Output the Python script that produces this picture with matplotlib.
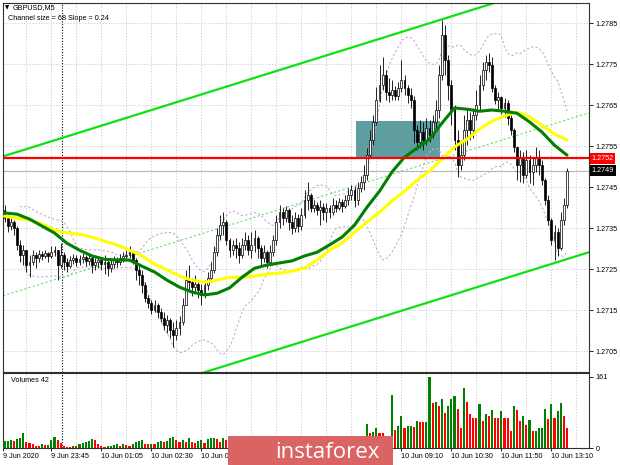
import numpy as np
import pandas as pd
import matplotlib
matplotlib.use("Agg")
import matplotlib.pyplot as plt
from matplotlib.patches import Rectangle
from matplotlib.transforms import blended_transform_factory

plt.rcParams['font.family'] = ['Liberation Sans', 'DejaVu Sans']

# GBPUSD M5 bars (open of bar i = close of bar i-1)
first_open = 1.27394
closes = [
    1.27374, 1.27355, 1.27365, 1.27350, 1.27309, 1.27284, 1.27296, 1.27260, 1.27267, 1.27284,
    1.27277, 1.27287, 1.27282, 1.27289, 1.27282, 1.27291, 1.27296, 1.27260, 1.27284, 1.27267,
    1.27257, 1.27272, 1.27277, 1.27267, 1.27274, 1.27279, 1.27270, 1.27277, 1.27260, 1.27267,
    1.27272, 1.27262, 1.27267, 1.27252, 1.27262, 1.27272, 1.27267, 1.27277, 1.27282, 1.27284,
    1.27291, 1.27272, 1.27248, 1.27235, 1.27211, 1.27179, 1.27167, 1.27150, 1.27162, 1.27145,
    1.27130, 1.27113, 1.27126, 1.27101, 1.27089, 1.27106, 1.27121, 1.27162, 1.27223, 1.27218,
    1.27206, 1.27213, 1.27199, 1.27187, 1.27211, 1.27228, 1.27248, 1.27291, 1.27333, 1.27357,
    1.27365, 1.27321, 1.27296, 1.27309, 1.27301, 1.27284, 1.27309, 1.27321, 1.27296, 1.27309,
    1.27326, 1.27301, 1.27277, 1.27291, 1.27267, 1.27291, 1.27321, 1.27365, 1.27389, 1.27374,
    1.27394, 1.27365, 1.27350, 1.27374, 1.27355, 1.27382, 1.27418, 1.27430, 1.27399, 1.27406,
    1.27394, 1.27401, 1.27389, 1.27399, 1.27389, 1.27406, 1.27399, 1.27413, 1.27404, 1.27418,
    1.27430, 1.27443, 1.27418, 1.27448, 1.27462, 1.27479, 1.27528, 1.27565, 1.27609, 1.27662,
    1.27699, 1.27723, 1.27682, 1.27674, 1.27687, 1.27672, 1.27691, 1.27711, 1.27691, 1.27674,
    1.27662, 1.27589, 1.27560, 1.27584, 1.27565, 1.27594, 1.27577, 1.27609, 1.27638, 1.27723,
    1.27821, 1.27760, 1.27699, 1.27638, 1.27565, 1.27504, 1.27528, 1.27589, 1.27613, 1.27589,
    1.27626, 1.27650, 1.27699, 1.27735, 1.27755, 1.27748, 1.27691, 1.27662, 1.27670, 1.27643,
    1.27655, 1.27618, 1.27589, 1.27548, 1.27504, 1.27521, 1.27479, 1.27516, 1.27487, 1.27504,
    1.27521, 1.27504, 1.27467, 1.27418, 1.27370, 1.27321, 1.27340, 1.27301, 1.27370, 1.27406,
    1.27490]
highs = [
    1.27406, 1.27382, 1.27374, 1.27370, 1.27355, 1.27321, 1.27309, 1.27296, 1.27284, 1.27296,
    1.27291, 1.27296, 1.27294, 1.27296, 1.27291, 1.27306, 1.27306, 1.27296, 1.27313, 1.27291,
    1.27277, 1.27282, 1.27287, 1.27284, 1.27284, 1.27289, 1.27284, 1.27289, 1.27282, 1.27277,
    1.27282, 1.27279, 1.27284, 1.27277, 1.27272, 1.27282, 1.27279, 1.27287, 1.27291, 1.27296,
    1.27306, 1.27296, 1.27277, 1.27260, 1.27248, 1.27218, 1.27187, 1.27174, 1.27174, 1.27167,
    1.27155, 1.27145, 1.27138, 1.27130, 1.27121, 1.27126, 1.27135, 1.27179, 1.27248, 1.27260,
    1.27228, 1.27235, 1.27223, 1.27213, 1.27223, 1.27243, 1.27267, 1.27306, 1.27350, 1.27382,
    1.27389, 1.27370, 1.27326, 1.27321, 1.27326, 1.27316, 1.27326, 1.27340, 1.27333, 1.27340,
    1.27345, 1.27330, 1.27309, 1.27309, 1.27296, 1.27309, 1.27333, 1.27382, 1.27406, 1.27399,
    1.27404, 1.27399, 1.27382, 1.27389, 1.27384, 1.27399, 1.27443, 1.27462, 1.27435, 1.27418,
    1.27413, 1.27418, 1.27411, 1.27411, 1.27406, 1.27423, 1.27418, 1.27423, 1.27421, 1.27430,
    1.27448, 1.27455, 1.27452, 1.27462, 1.27477, 1.27504, 1.27545, 1.27589, 1.27626, 1.27694,
    1.27748, 1.27767, 1.27735, 1.27716, 1.27711, 1.27696, 1.27706, 1.27760, 1.27723, 1.27699,
    1.27691, 1.27672, 1.27601, 1.27613, 1.27609, 1.27618, 1.27613, 1.27626, 1.27662, 1.27748,
    1.27857, 1.27845, 1.27772, 1.27711, 1.27650, 1.27589, 1.27565, 1.27626, 1.27638, 1.27633,
    1.27643, 1.27687, 1.27723, 1.27755, 1.27772, 1.27777, 1.27767, 1.27699, 1.27682, 1.27672,
    1.27667, 1.27662, 1.27626, 1.27594, 1.27545, 1.27540, 1.27535, 1.27540, 1.27528, 1.27523,
    1.27548, 1.27540, 1.27516, 1.27472, 1.27430, 1.27374, 1.27357, 1.27350, 1.27389, 1.27423,
    1.27496]
lows = [
    1.27365, 1.27340, 1.27345, 1.27333, 1.27296, 1.27267, 1.27260, 1.27243, 1.27230, 1.27260,
    1.27252, 1.27267, 1.27272, 1.27277, 1.27267, 1.27277, 1.27282, 1.27223, 1.27252, 1.27248,
    1.27243, 1.27252, 1.27262, 1.27257, 1.27260, 1.27265, 1.27257, 1.27260, 1.27240, 1.27248,
    1.27252, 1.27248, 1.27238, 1.27233, 1.27243, 1.27252, 1.27255, 1.27260, 1.27267, 1.27272,
    1.27277, 1.27262, 1.27223, 1.27211, 1.27191, 1.27170, 1.27155, 1.27140, 1.27145, 1.27130,
    1.27121, 1.27101, 1.27094, 1.27082, 1.27060, 1.27077, 1.27089, 1.27113, 1.27162, 1.27194,
    1.27184, 1.27194, 1.27179, 1.27162, 1.27179, 1.27199, 1.27218, 1.27240, 1.27282, 1.27321,
    1.27333, 1.27309, 1.27279, 1.27284, 1.27277, 1.27265, 1.27277, 1.27296, 1.27284, 1.27277,
    1.27291, 1.27277, 1.27260, 1.27267, 1.27252, 1.27257, 1.27282, 1.27309, 1.27350, 1.27357,
    1.27365, 1.27345, 1.27335, 1.27340, 1.27340, 1.27345, 1.27374, 1.27394, 1.27389, 1.27389,
    1.27382, 1.27357, 1.27370, 1.27365, 1.27374, 1.27382, 1.27389, 1.27394, 1.27389, 1.27399,
    1.27406, 1.27418, 1.27401, 1.27406, 1.27438, 1.27443, 1.27467, 1.27521, 1.27552, 1.27601,
    1.27657, 1.27687, 1.27662, 1.27657, 1.27662, 1.27662, 1.27662, 1.27682, 1.27674, 1.27655,
    1.27643, 1.27557, 1.27540, 1.27545, 1.27540, 1.27552, 1.27560, 1.27570, 1.27589, 1.27618,
    1.27711, 1.27723, 1.27662, 1.27601, 1.27540, 1.27474, 1.27491, 1.27516, 1.27552, 1.27565,
    1.27570, 1.27613, 1.27638, 1.27687, 1.27711, 1.27730, 1.27682, 1.27652, 1.27638, 1.27628,
    1.27621, 1.27601, 1.27577, 1.27535, 1.27467, 1.27462, 1.27460, 1.27472, 1.27460, 1.27455,
    1.27487, 1.27479, 1.27455, 1.27406, 1.27357, 1.27309, 1.27272, 1.27282, 1.27296, 1.27357,
    1.27399]
volumes = [
    15, 17, 19, 16, 20, 22, 34, 13, 11, 8,
    5, 4, 8, 6, 7, 19, 25, 19, 11, 5,
    2, 2, 5, 4, 9, 11, 14, 17, 20, 19,
    8, 4, 2, 4, 5, 7, 9, 5, 10, 7,
    5, 8, 13, 16, 19, 10, 9, 10, 8, 14,
    15, 13, 15, 23, 25, 19, 14, 19, 13, 23,
    14, 11, 15, 19, 11, 21, 22, 23, 21, 13,
    23, 18, 14, 16, 12, 15, 11, 14, 10, 13,
    16, 12, 15, 18, 20, 16, 22, 24, 20, 17,
    19, 15, 13, 17, 14, 18, 22, 25, 19, 16,
    13, 17, 14, 12, 16, 13, 17, 14, 12, 16,
    19, 22, 18, 23, 25, 21, 55, 34, 36, 45,
    33, 33, 28, 25, 121, 40, 51, 73, 45, 49,
    50, 47, 61, 59, 58, 59, 161, 102, 104, 95,
    112, 80, 95, 110, 117, 89, 45, 136, 105, 77,
    68, 67, 100, 62, 78, 72, 87, 68, 67, 83,
    68, 67, 39, 96, 86, 62, 73, 53, 63, 38,
    39, 45, 46, 89, 66, 100, 68, 83, 102, 72,
    45]

# moving averages every 4 bars (bars 0, 4, ..., 180)
ma_green = [1.27387, 1.27384, 1.27372, 1.27355, 1.27338, 1.27313, 1.27296, 1.27282,
            1.27274, 1.27272, 1.27272, 1.27257, 1.27243, 1.27223, 1.27206, 1.27194,
            1.27187, 1.27191, 1.27204, 1.27230, 1.27252, 1.27260, 1.27265, 1.27270,
            1.27282, 1.27291, 1.27309, 1.27328, 1.27357, 1.27401, 1.27440, 1.27487,
            1.27523, 1.27545, 1.27567, 1.27606, 1.27643, 1.27640, 1.27635, 1.27638,
            1.27635, 1.27630, 1.27609, 1.27584, 1.27552, 1.27528]
ma_yellow = [1.27379, 1.27374, 1.27370, 1.27360, 1.27345, 1.27338, 1.27335, 1.27328,
             1.27318, 1.27309, 1.27296, 1.27282, 1.27262, 1.27248, 1.27233, 1.27223,
             1.27218, 1.27223, 1.27230, 1.27230, 1.27233, 1.27238, 1.27240, 1.27245,
             1.27252, 1.27272, 1.27296, 1.27313, 1.27340, 1.27365, 1.27389, 1.27416,
             1.27440, 1.27467, 1.27489, 1.27518, 1.27548, 1.27567, 1.27591, 1.27611,
             1.27623, 1.27633, 1.27621, 1.27601, 1.27579, 1.27565]

# regression channel
ch_upper0 = 1.27526
ch_slope = 0.0000238
ch_width = 0.0068

level_red = 1.2752
level_bid = 1.2749
zone_bars = (112.5, 139.4)
zone_prices = (1.2752, 1.2761)

price_ticks = [1.2705, 1.2715, 1.2725, 1.2735, 1.2745, 1.2755, 1.2765, 1.2775, 1.2785]
time_pos = [-0.45, 15, 31, 47, 63, 127, 143, 159, 175]
time_labels = ['9 Jun 2020', '9 Jun 23:45', '10 Jun 01:05', '10 Jun 02:30', '10 Jun 03:50',
               '10 Jun 09:10', '10 Jun 10:30', '10 Jun 11:50', '10 Jun 13:10']

c = np.array(closes)
o = np.concatenate([[first_open], c[:-1]])
h = np.maximum(np.array(highs), np.maximum(o, c))
l = np.minimum(np.array(lows), np.minimum(o, c))
v = np.array(volumes)
idx = np.arange(len(c))
ma_bars = np.arange(0, len(c), 4)

W, H = 620, 465
fig = plt.figure(figsize=(W / 100, H / 100), dpi=100)

def px_axes(x0, y0, x1, y1):
    return fig.add_axes([x0 / W, 1 - y1 / H, (x1 - x0) / W, (y1 - y0) / H])

ax = px_axes(3, 3, 589, 372)
axv = px_axes(3, 373, 589, 448)
xlim = (-0.48, 187.04)
grid_kw = dict(color='#c8c8c8', lw=0.6, ls=(0, (1.5, 2)), zorder=0)

for a in (ax, axv):
    a.set_xlim(xlim)
    for gx in np.arange(7, 188, 8):
        a.axvline(gx, **grid_kw)
    a.axvline(18.4, color='black', lw=0.8, ls=(0, (1, 1.5)), zorder=1)
    for s in a.spines.values():
        s.set_color('#303030')
        s.set_linewidth(0.8)

ax.set_ylim(1.26999, 1.27899)
for py in price_ticks:
    ax.axhline(py, **grid_kw)

ax.add_patch(Rectangle((zone_bars[0], zone_prices[0]), zone_bars[1] - zone_bars[0],
                       zone_prices[1] - zone_prices[0], fc='#5f9ea0', ec='none', zorder=1))

# bollinger bands
s = pd.Series(c)
mid = s.rolling(20, min_periods=6).mean()
sd = s.rolling(20, min_periods=6).std(ddof=0)
for band in (mid + 2 * sd, mid - 2 * sd):
    ax.plot(idx, band, color='#cfa3e0', lw=0.8, ls=(0, (2, 2)), zorder=2)

xs = np.array(xlim)
upper = ch_upper0 + ch_slope * xs
ax.plot(xs, upper, color='#10e010', lw=1.6, zorder=2)
ax.plot(xs, upper - ch_width, color='#10e010', lw=1.6, zorder=2)
ax.plot(xs, upper - ch_width / 2, color='#66e066', lw=0.8, ls=(0, (2, 2)), zorder=2)

ax.axhline(level_bid, color='#b4b4b4', lw=0.8, zorder=2)
ax.axhline(level_red, color='#ff0000', lw=1.6, zorder=6)

up = c >= o
ax.vlines(idx, l, h, color='black', lw=0.6, zorder=3)
ax.bar(idx, np.maximum(np.abs(c - o), 0.000004), bottom=np.minimum(o, c), width=0.62,
       color=np.where(up, 'white', 'black'), edgecolor='black', linewidth=0.5, zorder=4)

ax.plot(ma_bars, ma_yellow, color='#ffff00', lw=2.2, zorder=5, solid_capstyle='round',
        solid_joinstyle='round')
ax.plot(ma_bars, ma_green, color='#008000', lw=2.2, zorder=5, solid_capstyle='round',
        solid_joinstyle='round')

ax.yaxis.tick_right()
ax.set_yticks(price_ticks)
ax.set_yticklabels([f'{p:.4f}' for p in price_ticks])
ax.set_xticks([])
ax.tick_params(axis='y', length=3, width=0.6, pad=1.5, labelsize=5.2)

tr = blended_transform_factory(ax.transAxes, ax.transData)
for val, col in [(level_red, '#ff0000'), (level_bid, 'black')]:
    ax.text(1.004, val, f'{val:.4f}', transform=tr, fontsize=5.2, color='white',
            va='center', ha='left', clip_on=False, zorder=10,
            bbox=dict(boxstyle='square,pad=0.25', fc=col, ec='none'))

# volumes: green when above previous bar
vcol = ['#008000'] + ['#008000' if v[i] > v[i - 1] else '#ff0000' for i in range(1, len(v))]
axv.bar(idx, v, width=0.7, color=vcol, zorder=3)
axv.set_ylim(0, 170)
axv.yaxis.tick_right()
axv.set_yticks([0, 161])
axv.set_yticklabels(['0', '161'])
axv.tick_params(axis='y', length=3, width=0.6, pad=1.5, labelsize=5.2)
axv.set_xticks(time_pos)
axv.set_xticklabels(time_labels, ha='left')
axv.tick_params(axis='x', length=2, width=0.6, pad=1.5, labelsize=5.2)
axv.text(8 / 586, 0.9, 'Volumes 42', transform=axv.transAxes, fontsize=5.2, va='center')

fig.text(5 / W, 1 - 8 / H, '▼', family='DejaVu Sans', fontsize=4, va='center')
fig.text(13 / W, 1 - 8 / H, 'GBPUSD,M5', fontsize=5.2, va='center')
fig.text(8 / W, 1 - 18 / H, 'Channel size = 68 Slope = 0.24', fontsize=5.2, va='center')

# watermark logo
fig.patches.append(Rectangle((228 / W, 0), 165 / W, 29 / H, transform=fig.transFigure,
                             fc='#da6464', ec='none', zorder=20))
fig.text(327 / W, 13 / H, 'instaforex', family=['Open Sans', 'DejaVu Sans'], fontsize=16,
         color='white', ha='center', va='center', zorder=21)

fig.savefig('out.png', dpi=100, facecolor='white')
